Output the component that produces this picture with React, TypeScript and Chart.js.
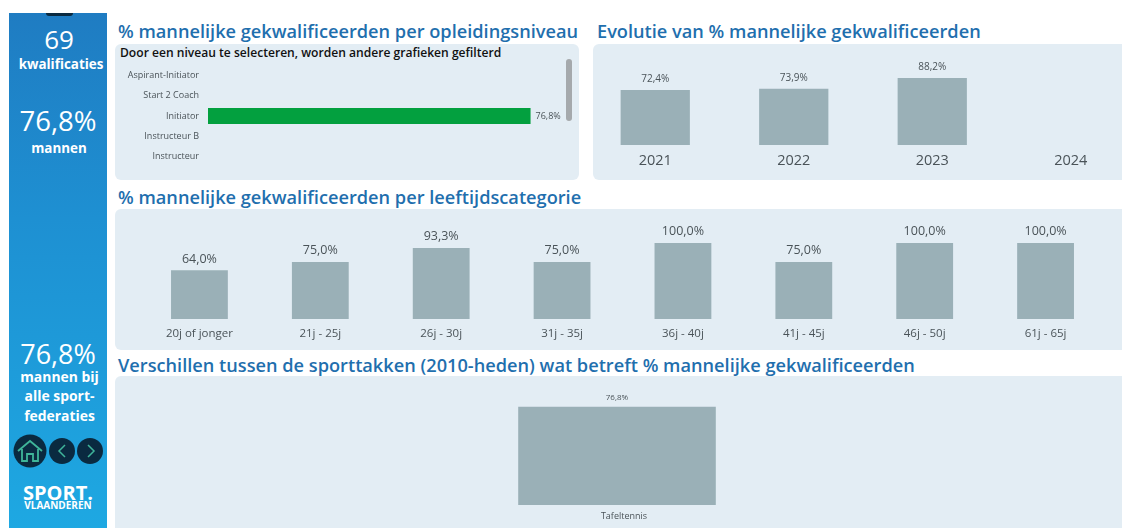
import React, { useEffect, useRef } from "react";
import { Chart, registerables } from "chart.js";

Chart.register(...registerables);

const levelLabels = ["Aspirant-Initiator", "Start 2 Coach", "Initiator", "Instructeur B", "Instructeur"];
const levelValues = [null, null, 76.8, null, null];
const yearLabels = ["2021", "2022", "2023", "2024"];
const yearValues = [72.4, 73.9, 88.2, null];
const ageLabels = ["20j of jonger", "21j - 25j", "26j - 30j", "31j - 35j", "36j - 40j", "41j - 45j", "46j - 50j", "61j - 65j"];
const ageValues = [64.0, 75.0, 93.3, 75.0, 100.0, 75.0, 100.0, 100.0];
const sportLabels = ["Tafeltennis"];
const sportValues = [76.8];

const FONT = '"Open Sans", "Noto Sans", sans-serif';
const BAR = "#9ab0b7";
const PANEL = "#e3edf4";
const TITLE = "#1f6fae";
const TEXT = "#4a5358";

const fmt = (v: number) => v.toFixed(1).replace(".", ",") + "%";

const valueLabels = {
  id: "valueLabels",
  afterDatasetsDraw(chart: any, _a: any, opts: any) {
    const { ctx } = chart;
    const meta = chart.getDatasetMeta(0);
    const values = chart.data.datasets[0].data;
    ctx.save();
    ctx.font = `${opts.size}px ${FONT}`;
    ctx.fillStyle = TEXT;
    meta.data.forEach((el: any, i: number) => {
      const v = values[i];
      if (v == null) return;
      if (opts.horizontal) {
        ctx.textAlign = "left";
        ctx.textBaseline = "middle";
        ctx.fillText(fmt(v), el.x + opts.gap, el.y);
      } else {
        ctx.textAlign = "center";
        ctx.textBaseline = "bottom";
        ctx.fillText(fmt(v), el.x, el.y - opts.gap);
      }
    });
    ctx.restore();
  },
};

type Cfg = {
  left: number; top: number; width: number; height: number;
  labels: string[]; values: (number | null)[];
  max: number; color?: string; horizontal?: boolean;
  pct: number; tickSize: number; labelSize: number; gap: number;
  padTop: number; axisSize: number; tickPad: number; labelOffset?: number;
};

function BarChart({ cfg }: { cfg: Cfg }) {
  const ref = useRef<HTMLCanvasElement>(null);
  useEffect(() => {
    const h = !!cfg.horizontal;
    const fit = (s: any) => { if (h) s.width = cfg.axisSize; else s.height = cfg.axisSize; };
    const chart = new Chart(ref.current!, {
      type: "bar",
      data: {
        labels: cfg.labels,
        datasets: [{
          data: cfg.values as any,
          backgroundColor: cfg.color ?? BAR,
          categoryPercentage: 1,
          barPercentage: cfg.pct,
        }],
      },
      plugins: [valueLabels],
      options: {
        indexAxis: h ? "y" : "x",
        animation: false,
        responsive: false,
        layout: { padding: { top: cfg.padTop, left: 0, right: 0, bottom: 0 } },
        plugins: {
          legend: { display: false },
          tooltip: { enabled: false },
          valueLabels: { size: cfg.labelSize, gap: cfg.gap, horizontal: h },
        } as any,
        scales: {
          [h ? "y" : "x"]: {
            type: "category",
            grid: { display: false, drawTicks: false },
            border: { display: false },
            afterFit: fit,
            ticks: {
              color: TEXT,
              padding: cfg.tickPad,
              labelOffset: cfg.labelOffset ?? 0,
              maxRotation: 0,
              autoSkip: false,
              font: { family: FONT, size: cfg.tickSize },
            },
          },
          [h ? "x" : "y"]: { display: false, min: 0, max: cfg.max },
        } as any,
      },
    });
    return () => chart.destroy();
  }, []);
  return (
    <canvas
      ref={ref}
      width={cfg.width}
      height={cfg.height}
      style={{ position: "absolute", left: cfg.left, top: cfg.top, width: cfg.width, height: cfg.height }}
    />
  );
}

const abs = (left: number, top: number, width: number, height: number, extra: React.CSSProperties = {}): React.CSSProperties => ({
  position: "absolute", left, top, width, height, ...extra,
});

function Panel({ x, y, w, h }: { x: number; y: number; w: number; h: number }) {
  return <div style={abs(x, y, w, h, { background: PANEL, borderRadius: 6 })} />;
}

function Title({ x, y, size, children }: { x: number; y: number; size: number; children: React.ReactNode }) {
  return (
    <div style={{ position: "absolute", left: x, top: y, fontFamily: FONT, fontWeight: 600, fontSize: size, lineHeight: "24px", color: TITLE, whiteSpace: "nowrap" }}>
      {children}
    </div>
  );
}

function Side({ y, size, bold, dx = 0, children }: { y: number; size: number; bold?: boolean; dx?: number; children: React.ReactNode }) {
  return (
    <div style={{ position: "absolute", left: 9 + dx, width: 98, top: y - 20, height: 40, lineHeight: "40px", textAlign: "center", color: "#fff", fontFamily: FONT, fontWeight: bold ? 700 : 400, fontSize: size, whiteSpace: "nowrap" }}>
      {children}
    </div>
  );
}

function Icons() {
  const teal = "#3fb59a";
  return (
    <svg style={abs(9, 430, 98, 42)} viewBox="9 430 98 42">
      <circle cx="30" cy="451" r="16.5" fill="#0a2a40" />
      <circle cx="62" cy="451" r="13" fill="#0a2a40" />
      <circle cx="90" cy="451" r="13" fill="#0a2a40" />
      <path d="M18 451 L30 441 L42 451 M22 449 V461 H27 V454 H33 V461 H38 V449" fill="none" stroke={teal} strokeWidth="1.8" />
      <path d="M65 445 L59 451 L65 457" fill="none" stroke={teal} strokeWidth="1.5" />
      <path d="M88 445 L94 451 L88 457" fill="none" stroke={teal} strokeWidth="1.5" />
    </svg>
  );
}

export default function App() {
  return (
    <div style={{ position: "fixed", left: 0, top: 0, width: 1122, height: 528, overflow: "hidden", background: "#fff", filter: "blur(0.45px)" }}>
      <div style={abs(9, 13, 98, 515, { background: "linear-gradient(180deg,#1f7cc2 0%,#1e90d2 40%,#1ea8e2 100%)" })} />
      <div style={abs(46, 13, 27, 3, { background: "#0a2a40", borderRadius: "0 0 14px 14px" })} />
      <Side y={39} size={26} dx={1}>69</Side>
      <Side y={64} size={13.4} bold dx={3}>kwalificaties</Side>
      <Side y={121} size={27.5}>76,8%</Side>
      <Side y={148} size={13.4} bold dx={1}>mannen</Side>
      <Side y={354} size={27}>76,8%</Side>
      <Side y={377} size={13.9} bold dx={1.5}>mannen bij</Side>
      <Side y={396} size={13.9} bold dx={1.5}>alle sport-</Side>
      <Side y={416} size={13.9} bold dx={1.5}>federaties</Side>
      <Icons />
      <Side y={493} size={20} bold>SPORT.</Side>
      <Side y={505} size={10} bold>VLAANDEREN</Side>

      <Title x={118} y={19} size={18.2}>% mannelijke gekwalificeerden per opleidingsniveau</Title>
      <Title x={597} y={19} size={18.2}>Evolutie van % mannelijke gekwalificeerden</Title>
      <Title x={118} y={185} size={18.2}>% mannelijke gekwalificeerden per leeftijdscategorie</Title>
      <Title x={118} y={353} size={18.2}>Verschillen tussen de sporttakken (2010-heden) wat betreft % mannelijke gekwalificeerden</Title>

      <Panel x={115} y={44} w={464} h={136} />
      <Panel x={593} y={44} w={540} h={136} />
      <Panel x={115} y={209} w={1020} h={141} />
      <Panel x={115} y={376} w={1020} h={160} />

      <div style={{ position: "absolute", left: 120, top: 45, fontFamily: FONT, fontWeight: 600, fontSize: 12.1, lineHeight: "16px", color: "#111", whiteSpace: "nowrap" }}>
        Door een niveau te selecteren, worden andere grafieken gefilterd
      </div>
      <div style={abs(566, 59, 6, 62, { background: "#a5a9ac", borderRadius: 3 })} />

      <BarChart cfg={{ left: 115, top: 51, width: 450, height: 130, labels: levelLabels, values: levelValues, max: 85, color: "#03a03f", horizontal: true, pct: 0.8, tickSize: 9, labelSize: 9, gap: 5, padTop: 0, axisSize: 93, tickPad: 9 }} />
      <BarChart cfg={{ left: 586, top: 44, width: 554, height: 136, labels: yearLabels, values: yearValues, max: 100, pct: 0.5, tickSize: 14.5, labelSize: 10, gap: 6, padTop: 25, axisSize: 35, tickPad: 7 }} />
      <BarChart cfg={{ left: 139, top: 209, width: 967, height: 141, labels: ageLabels, values: ageValues, max: 100, pct: 0.47, tickSize: 11.5, labelSize: 12.5, gap: 5, padTop: 34, axisSize: 31, tickPad: 8 }} />
      <BarChart cfg={{ left: 123, top: 376, width: 988, height: 152, labels: sportLabels, values: sportValues, max: 100, pct: 0.2, tickSize: 9, labelSize: 8, gap: 5, padTop: 1, axisSize: 23, tickPad: 6, labelOffset: 7 }} />
    </div>
  );
}
